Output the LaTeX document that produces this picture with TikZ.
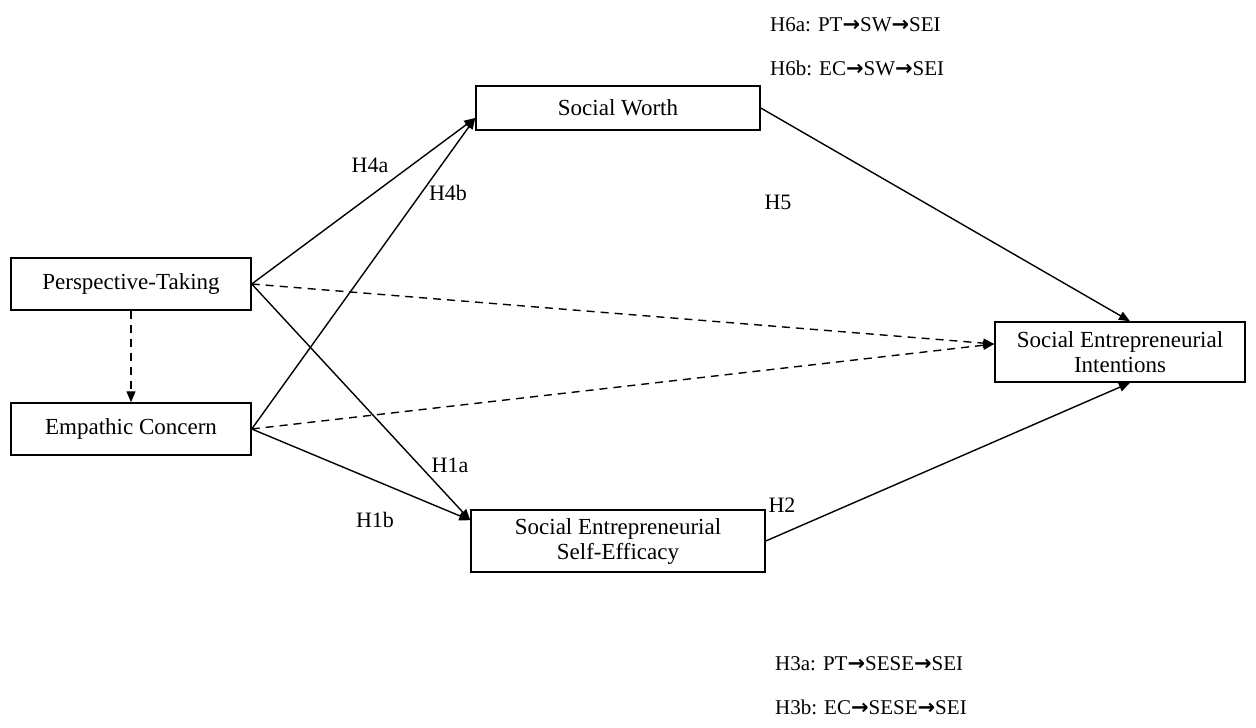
\documentclass[tikz,border=0pt]{standalone}
\usepackage{fontspec}
\setmainfont{Liberation Serif}
\newfontfamily\arrfont{DejaVu Sans}
\usetikzlibrary{arrows.meta}
\newcommand{\ar}{{\arrfont\bfseries\char"2192}}
\begin{document}
\begin{tikzpicture}[x=1pt,y=-1pt,
  box/.style={draw, line width=1.5pt, align=center, inner sep=0pt,
    font=\fontsize{23}{25}\selectfont},
  conn/.style={line width=1.4pt, -{Triangle[length=11pt,width=9pt]}},
  dconn/.style={conn, dashed, dash pattern=on 8pt off 6pt},
  lbl/.style={font=\fontsize{22}{24}\selectfont, inner sep=0pt},
  hyp/.style={font=\fontsize{21}{24}\selectfont, inner sep=0pt, anchor=west}]
\useasboundingbox (0,0) rectangle (1256,728);
\node[box, minimum width=284pt, minimum height=44pt] (SW) at (618,108) {Social Worth};
\node[box, minimum width=240pt, minimum height=52pt] (PT) at (131,284) {Perspective-Taking};
\node[box, minimum width=240pt, minimum height=52pt] (EC) at (131,429) {Empathic Concern};
\node[box, minimum width=294pt, minimum height=62pt] (SE) at (618,541) {Social Entrepreneurial\\Self-Efficacy};
\node[box, minimum width=250pt, minimum height=60pt] (SEI) at (1120,352) {Social Entrepreneurial\\Intentions};

\draw[conn] (PT.east) -- (SW.184);
\draw[conn] (EC.east) -- (SW.184);
\draw[conn] (PT.east) -- (SE.172);
\draw[conn] (EC.east) -- (SE.172);
\draw[conn] (SW.east) -- ([xshift=10pt]SEI.north);
\draw[conn] (SE.east) -- ([xshift=10pt]SEI.south);
\draw[dconn] (PT.east) -- ([yshift=8pt]SEI.west);
\draw[dconn] (EC.east) -- ([yshift=8pt]SEI.west);
\draw[dconn] (PT.south) -- (EC.north);

\node[lbl] (l4a) at (370,165) {H4a};
\node[lbl] (l4b) at (448,193) {H4b};
\node[lbl] (l5) at (778,202) {H5};
\node[lbl] (l1a) at (450,465) {H1a};
\node[lbl] (l1b) at (375,520) {H1b};
\node[lbl] (l2) at (782,505) {H2};

\node[hyp] (h6a) at (770,25) {H6a: PT\ar SW\ar SEI};
\node[hyp] (h6b) at (770,68) {H6b: EC\ar SW\ar SEI};
\node[hyp] (h3a) at (775,664) {H3a: PT\ar SESE\ar SEI};
\node[hyp] (h3b) at (775,707) {H3b: EC\ar SESE\ar SEI};
\end{tikzpicture}
\end{document}
